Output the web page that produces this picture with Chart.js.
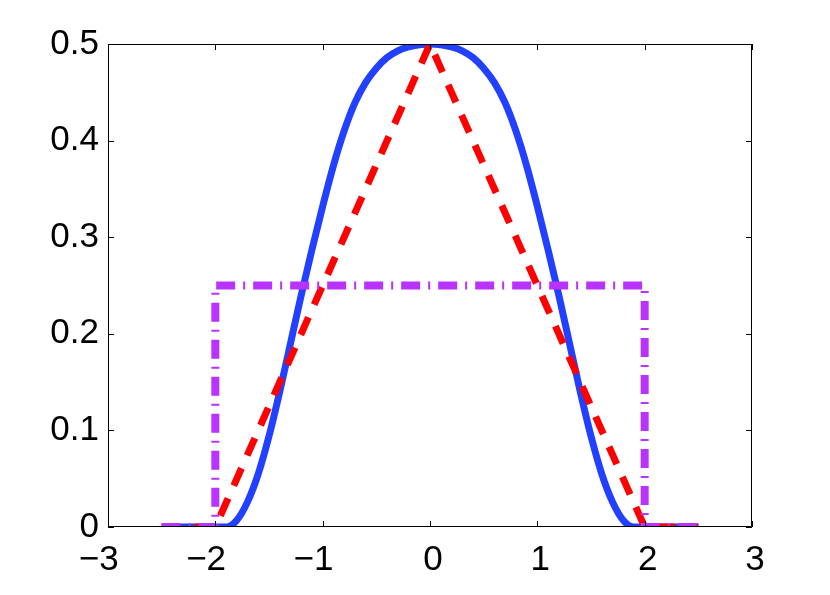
<!DOCTYPE html>
<html>
<head>
<meta charset="utf-8">
<script src="https://cdn.jsdelivr.net/npm/chart.js@4/dist/chart.umd.min.js"></script>
<style>
  html, body { margin: 0; padding: 0; background: #fff; }
  #wrap { width: 830px; height: 595px; }
</style>
</head>
<body>
<div id="wrap"><canvas id="plot"></canvas></div>
<script>
// values
const xTicks = [-3, -2, -1, 0, 1, 2, 3];
// trailing spaces push the negative labels left, as in the original
const xTickLabels = ['\u22123\u2002\u2009', '\u22122\u2002\u2009', '\u22121\u2002\u2009', '0', '1', '2', '3'];
const yTicks = [0, 0.1, 0.2, 0.3, 0.4, 0.5];
const yTickLabels = ['0', '0.1', '0.2', '0.3', '0.4', '0.5'];

// smooth bump (blue, solid)
const bumpX = [-2.5, -2.4, -2.3, -2.2, -2.1, -2.0, -1.9, -1.8, -1.7, -1.6, -1.5, -1.4, -1.3, -1.2, -1.1, -1.0,
  -0.9, -0.8, -0.7, -0.6, -0.5, -0.4, -0.3, -0.2, -0.1, 0, 0.1, 0.2, 0.3, 0.4, 0.5, 0.6, 0.7, 0.8, 0.9,
  1.0, 1.1, 1.2, 1.3, 1.4, 1.5, 1.6, 1.7, 1.8, 1.9, 2.0, 2.1, 2.2, 2.3, 2.4, 2.5];
const bumpY = [0, 0, 0, 0, 0, 0, 0, 0.007, 0.026, 0.055, 0.094, 0.140, 0.190, 0.240, 0.287, 0.332,
  0.374, 0.410, 0.439, 0.460, 0.475, 0.486, 0.493, 0.497, 0.4992, 0.5, 0.4992, 0.497, 0.493, 0.486, 0.475, 0.460, 0.439, 0.410, 0.374,
  0.332, 0.287, 0.240, 0.190, 0.140, 0.094, 0.055, 0.026, 0.007, 0, 0, 0, 0, 0, 0, 0];

// triangle (red, dashed)
const triX = [-2.5, -2.0, 0, 2.0, 2.5];
const triY = [0, 0, 0.5, 0, 0];

// box (purple, dash-dot)
const boxX = [-2.5, -2.0, -2.0, 2.0, 2.0, 2.5];
const boxY = [0, 0, 0.25, 0.25, 0, 0];

const pts = (xs, ys) => xs.map((x, i) => ({ x: x, y: ys[i] }));

const FONT = { family: '"Liberation Sans", Arial, Helvetica, sans-serif', size: 35 };

// matlab style box with inward ticks on all four sides
const boxAxes = {
  id: 'boxAxes',
  afterDraw(chart) {
    const ctx = chart.ctx;
    const a = chart.chartArea;
    const sx = chart.scales.x, sy = chart.scales.y;
    const tl = 6;
    ctx.save();
    ctx.strokeStyle = '#000';
    ctx.lineWidth = 1;
    ctx.beginPath();
    ctx.rect(a.left + 0.5, a.top + 0.5, a.right - a.left - 1, a.bottom - a.top - 1);
    xTicks.forEach(v => {
      const px = Math.round(sx.getPixelForValue(v)) + 0.5;
      ctx.moveTo(px, a.bottom); ctx.lineTo(px, a.bottom - tl);
      ctx.moveTo(px, a.top); ctx.lineTo(px, a.top + tl);
    });
    yTicks.forEach(v => {
      const py = Math.round(sy.getPixelForValue(v)) + 0.5;
      ctx.moveTo(a.left, py); ctx.lineTo(a.left + tl, py);
      ctx.moveTo(a.right, py); ctx.lineTo(a.right - tl, py);
    });
    ctx.stroke();
    ctx.restore();
  }
};

new Chart(document.getElementById('plot'), {
  type: 'line',
  data: {
    datasets: [
      {
        data: pts(boxX, boxY),
        borderColor: '#B833FF',
        borderWidth: 8,
        borderDash: [19, 8, 2, 8],
        borderCapStyle: 'butt',
        tension: 0,
        clip: 0,
        order: 1
      },
      {
        data: pts(triX, triY),
        borderColor: '#FF0000',
        borderWidth: 7,
        borderDash: [19, 14],
        borderCapStyle: 'butt',
        tension: 0,
        clip: 0,
        order: 2
      },
      {
        data: pts(bumpX, bumpY),
        borderColor: '#2240FF',
        borderWidth: 7,
        cubicInterpolationMode: 'monotone',
        borderJoinStyle: 'round',
        clip: 0,
        order: 3
      }
    ]
  },
  options: {
    responsive: true,
    maintainAspectRatio: false,
    animation: false,
    events: [],
    layout: { padding: { left: 0, top: 44, right: 78, bottom: 0 } },
    elements: { point: { radius: 0 } },
    plugins: {
      legend: { display: false },
      tooltip: { enabled: false }
    },
    scales: {
      x: {
        type: 'linear',
        min: -3, max: 3,
        afterBuildTicks: s => { s.ticks = xTicks.map(v => ({ value: v })); },
        afterFit: s => { s.height = 68; },
        grid: { display: false, drawTicks: false },
        border: { display: false },
        ticks: {
          color: '#000',
          font: FONT,
          padding: 12,
          labelOffset: 3,
          maxRotation: 0,
          autoSkip: false,
          callback: v => xTickLabels[xTicks.indexOf(v)]
        }
      },
      y: {
        type: 'linear',
        min: 0, max: 0.5,
        afterBuildTicks: s => { s.ticks = yTicks.map(v => ({ value: v })); },
        afterFit: s => { s.width = 108; },
        grid: { display: false, drawTicks: false },
        border: { display: false },
        ticks: {
          color: '#000',
          font: FONT,
          padding: 9,
          autoSkip: false,
          callback: v => yTickLabels[yTicks.findIndex(t => Math.abs(t - v) < 1e-9)]
        }
      }
    }
  },
  plugins: [boxAxes]
});
</script>
</body>
</html>
